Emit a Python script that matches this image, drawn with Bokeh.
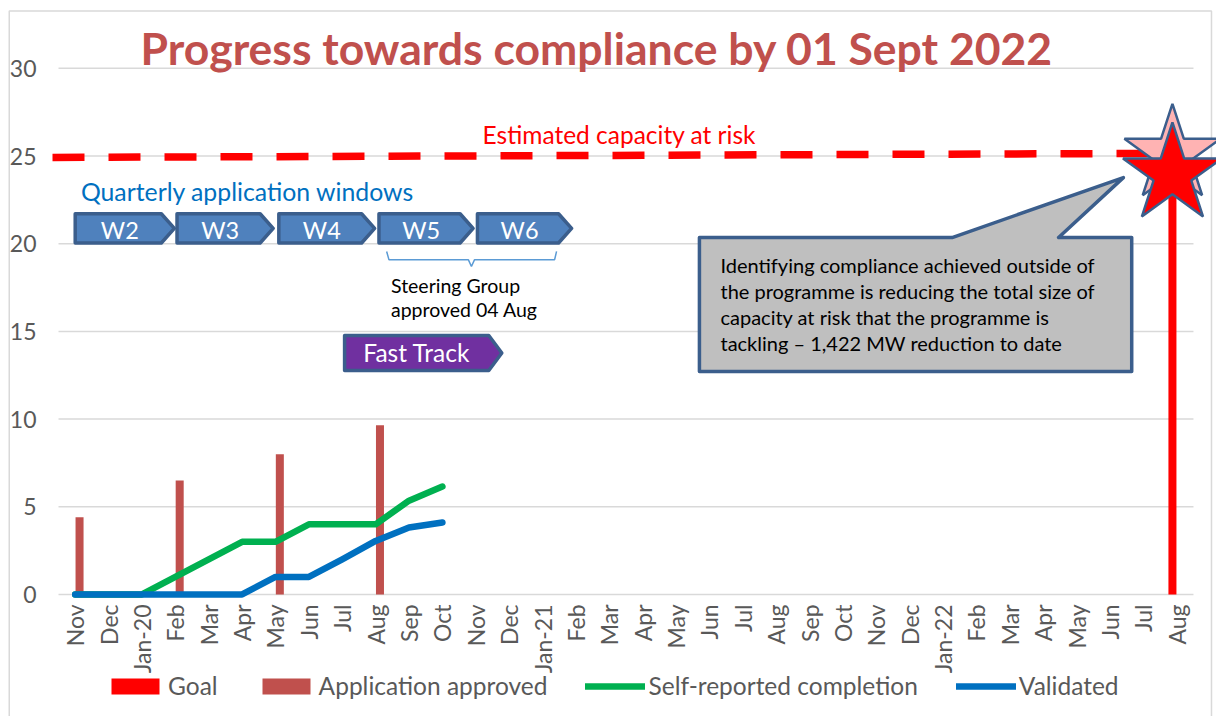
import math
from bokeh.plotting import figure
from bokeh.models import (Range1d, FixedTicker, Legend, LegendItem, Label, ColumnDataSource)
from bokeh.transform import dodge
from bokeh.embed import file_html
from bokeh.resources import INLINE

# ---------------- data ----------------
months = ["Nov", "Dec", "Jan-20", "Feb", "Mar", "Apr", "May", "Jun", "Jul", "Aug", "Sep", "Oct",
          "Nov", "Dec", "Jan-21", "Feb", "Mar", "Apr", "May", "Jun", "Jul", "Aug", "Sep", "Oct",
          "Nov", "Dec", "Jan-22", "Feb", "Mar", "Apr", "May", "Jun", "Jul", "Aug"]
goal_month_idx = [33]
goal_values = [25]
approved_month_idx = [0, 3, 6, 9]
approved_values = [4.4, 6.5, 8.0, 9.65]
progress_month_idx = [0, 1, 2, 3, 4, 5, 6, 7, 8, 9, 10, 11]
self_reported = [0, 0, 0, 1, 2, 3, 3, 4, 4, 4, 5.35, 6.15]
validated = [0, 0, 0, 0, 0, 0, 1, 1, 2, 3.05, 3.82, 4.1]
y_ticks = [0, 5, 10, 15, 20, 25, 30]
capacity_at_risk = [24.92, 25.15]          # start / end of the dashed estimate
windows = ["W2", "W3", "W4", "W5", "W6"]
window_start = [0.0, 3.05, 6.1, 9.1, 12.05]
window_end = [2.97, 5.93, 8.97, 11.92, 14.87]
fast_track = ["Fast Track"]
fast_track_start = [8.07]
fast_track_end = [12.78]
callout_lines = ["Identifying compliance achieved outside of",
                 "the programme is reducing the total size of",
                 "capacity at risk that the programme is",
                 "tackling \u2013 1,422 MW reduction to date"]

# ---------------- styles / positions ----------------
FONT = "Lato"
GREY_TXT = "#595959"
BLUE_EDGE = "#3B5E8C"
BAR_W = 0.24
BAR_OFF = 0.13
CHEV_TOP, CHEV_BOT, CHEV_DEPTH = 21.71, 20.04, 0.39
FT_TOP, FT_BOT = 14.77, 12.77
X_LO, X_HI = -0.5, 33.5          # plot-area extent (gridlines)

p = figure(width=1216, height=716, output_backend="svg", toolbar_location=None,
           x_range=Range1d(-2.238, 34.19), y_range=Range1d(-6.96, 33.87),
           min_border_left=0, min_border_right=0, min_border_top=0, min_border_bottom=0,
           background_fill_color="white", border_fill_color="white")
p.outline_line_color = None

# axes drawn inside the canvas at fixed locations
p.xaxis.fixed_location = 0
p.yaxis.fixed_location = X_LO
p.xaxis.ticker = FixedTicker(ticks=list(range(len(months))))
p.xaxis.major_label_overrides = {i: m for i, m in enumerate(months)}
p.xaxis.major_label_orientation = math.pi / 2
p.yaxis.ticker = FixedTicker(ticks=y_ticks)
for ax in (p.xaxis, p.yaxis):
    ax.axis_line_color = None
    ax.major_tick_line_color = None
    ax.minor_tick_line_color = None
    ax.major_tick_out = 0
    ax.major_tick_in = 0
    ax.minor_tick_out = 0
    ax.major_label_text_font = FONT
    ax.major_label_text_font_size = "23px"
    ax.major_label_text_color = GREY_TXT
p.xaxis.major_label_standoff = 10
p.yaxis.major_label_standoff = 22
p.xgrid.visible = False
p.ygrid.visible = False

# chart border and horizontal gridlines
p.quad(left=[-1.976], right=[34.04], top=[33.27], bottom=[-7.5], fill_color=None,
       line_color="#D9D9D9", line_width=1.5)
p.multi_line([[X_LO, X_HI] for _ in y_ticks], [[t, t] for t in y_ticks],
             line_color="#D9D9D9", line_width=1.5)

# bars
goal_src = ColumnDataSource(dict(x=goal_month_idx, top=goal_values))
appr_src = ColumnDataSource(dict(x=approved_month_idx, top=approved_values))
r_goal = p.vbar(x=dodge("x", -BAR_OFF), top="top", width=BAR_W, source=goal_src,
                fill_color="#FF0000", line_color=None)
r_appr = p.vbar(x=dodge("x", BAR_OFF), top="top", width=BAR_W, source=appr_src,
                fill_color="#C0504D", line_color=None)

# lines
r_self = p.line(progress_month_idx, self_reported, line_color="#00B050", line_width=6.5,
                line_cap="round", line_join="round")
r_val = p.line(progress_month_idx, validated, line_color="#0070C0", line_width=6.5,
               line_cap="round", line_join="round")

# estimated capacity at risk (dashed)
p.line([-0.68, 32.2], capacity_at_risk, line_color="#FF0000", line_width=7.5, line_dash="32 24")

# application window chevrons
def chevron(s, e, top, bot, d):
    mid = (top + bot) / 2
    return [s, e - d, e, e - d, s], [top, top, mid, bot, bot]

wx, wy = [], []
for s, e in zip(window_start, window_end):
    xs, ys = chevron(s, e, CHEV_TOP, CHEV_BOT, CHEV_DEPTH)
    wx.append(xs); wy.append(ys)
p.patches(wx, wy, fill_color="#4F81BD", line_color=BLUE_EDGE, line_width=3.5, line_join="round")

fx, fy = [], []
for s, e in zip(fast_track_start, fast_track_end):
    xs, ys = chevron(s, e, FT_TOP, FT_BOT, CHEV_DEPTH)
    fx.append(xs); fy.append(ys)
p.patches(fx, fy, fill_color="#7030A0", line_color=BLUE_EDGE, line_width=3.5, line_join="round")

# bracket under W5/W6
p.line([9.33, 9.4, 11.78, 11.87, 11.96, 14.36, 14.42],
       [19.56, 19.08, 19.08, 18.7, 19.08, 19.08, 19.56],
       line_color="#5B9BD5", line_width=1.5)

# callout
CL, CR, CT, CB = 18.70, 31.65, 20.35, 12.71
p.patch([CL, 26.27, 31.4, 29.46, CR, CR, CL], [CT, CT, 23.77, CT, CT, CB, CB],
        fill_color="#BFBFBF", line_color=BLUE_EDGE, line_width=3.5, line_join="round")

# stars
star_x = goal_month_idx[0] - BAR_OFF
p.scatter([star_x], [25.1], marker="star", size=101, fill_color="#FFB3B3",
          line_color=BLUE_EDGE, line_width=2.5)
p.scatter([star_x], [23.95], marker="star", size=104, fill_color="#FF0000",
          line_color=BLUE_EDGE, line_width=2.5)

# texts
def lab(x, y, text, size, color, align="left", style="normal"):
    p.add_layout(Label(x=x, y=y, text=text, text_font=FONT, text_font_size=size,
                       text_color=color, text_align=align, text_baseline="alphabetic",
                       text_font_style=style))

lab(15.63, 31.17, "Progress towards compliance by 01 Sept 2022", "44.5px", "#C0504D",
    align="center", style="bold")
lab(16.3, 26.25, "Estimated capacity at risk", "24.5px", "#FF0000", align="center")
lab(0.17, 22.96, "Quarterly application windows", "24.8px", "#0070C0")
for name, s, e in zip(windows, window_start, window_end):
    lab((s + e - CHEV_DEPTH * 0.5) / 2 - 0.05, 20.81, name, "23.5px", "white", align="center")
for name, s, e in zip(fast_track, fast_track_start, fast_track_end):
    lab((s + e - CHEV_DEPTH) / 2, 13.80, name, "24.5px", "white", align="center")
lab(9.46, 17.6, "Steering Group", "19.5px", "black")
lab(9.46, 16.27, "approved 04 Aug", "19.5px", "black")
for i, t in enumerate(callout_lines):
    lab(19.33, 18.80 - i * 1.494, t, "20px", "black")

# legend (screen px from the bottom-left of the plot area)
legend = Legend(items=[LegendItem(label="Goal", renderers=[r_goal]),
                       LegendItem(label="Application approved", renderers=[r_appr]),
                       LegendItem(label="Self-reported completion", renderers=[r_self]),
                       LegendItem(label="Validated", renderers=[r_val])],
                orientation="horizontal", location=(105, 16),
                label_text_font=FONT, label_text_font_size="24.5px", label_text_color=GREY_TXT,
                glyph_width=60, glyph_height=20, label_standoff=3, spacing=38,
                border_line_color=None, background_fill_alpha=0, padding=0, margin=0)
p.add_layout(legend)

open("out.html", "w").write(file_html(p, INLINE))
